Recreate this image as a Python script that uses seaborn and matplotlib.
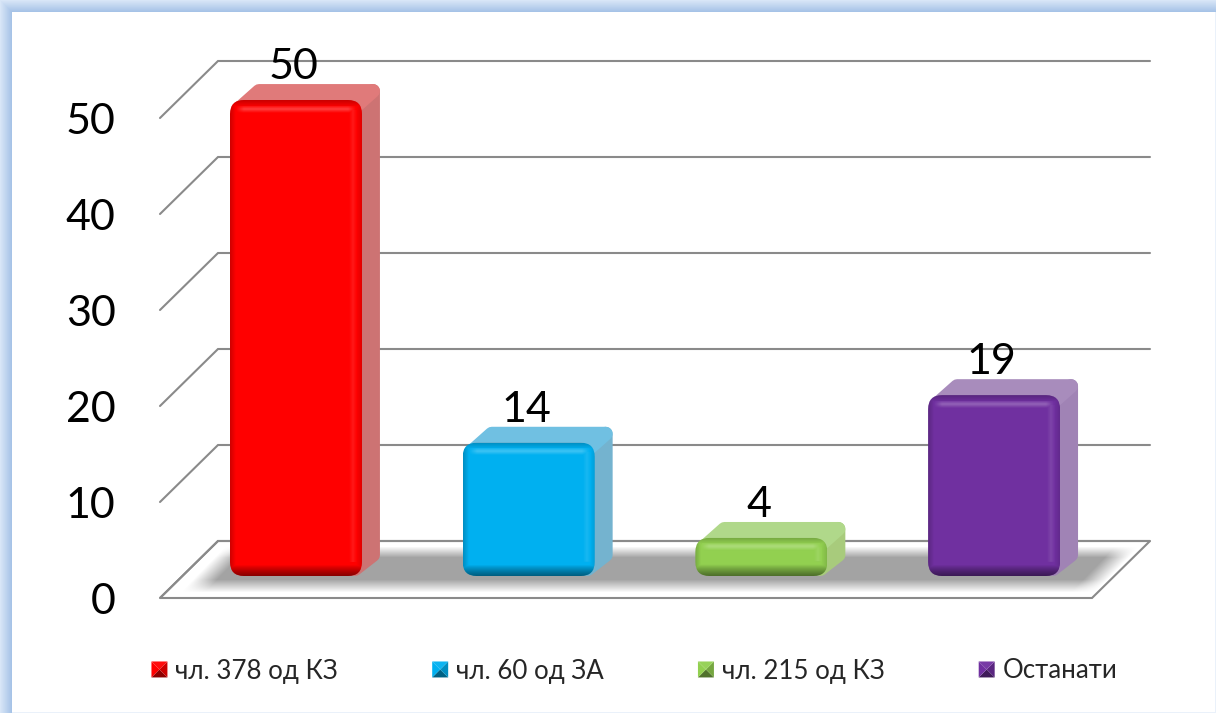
import numpy as np
import matplotlib
matplotlib.use("Agg")
import matplotlib.pyplot as plt
import seaborn as sns
from matplotlib.patches import Polygon, FancyBboxPatch, Patch
from matplotlib.legend_handler import HandlerBase
from matplotlib.colors import to_rgb

categories = ["чл. 378 од КЗ", "чл. 60 од ЗА", "чл. 215 од КЗ", "Останати"]
values = [50, 14, 4, 19]
colors = ["#FF0000", "#00B0F0", "#92D050", "#7030A0"]
side_colors = ["#CD7373", "#74B3CF", "#A8CB7C", "#A083B5"]
top_colors = ["#E07A7A", "#70C0E2", "#B0D88A", "#A88CBC"]
y_ticks = [0, 10, 20, 30, 40, 50]

W, H = 1216, 713
DX, DY = 18, 16
sns.set_theme(style="white")
plt.rcParams["font.family"] = ["Lato", "Noto Sans", "DejaVu Sans"]
fig = plt.figure(figsize=(W / 100, H / 100), dpi=100, facecolor="white")


def fig_rect(x0, y_top, x1, y_bot):
    return [x0 / W, 1 - y_bot / H, (x1 - x0) / W, (y_bot - y_top) / H]


def px_axes(z):
    a = fig.add_axes([0, 0, 1, 1], zorder=z)
    a.set_xlim(0, W)
    a.set_ylim(H, 0)
    a.axis("off")
    a.patch.set_alpha(0)
    return a


bg = px_axes(0)
depth = px_axes(2)
fx = px_axes(4)

# frame
yy, xx = np.mgrid[0:H, 0:W]
d = np.maximum(12 - xx, 12 - yy).astype(float)
t = np.clip(d / 12, 0, 1)[..., None]
inner, outer = np.array(to_rgb("#A2C0E6")), np.array(to_rgb("#D8E6F7"))
frame = inner * (1 - t) + outer * t
frame[d <= 0] = 1
edge = (xx >= W - 1) | (yy >= H - 1)
frame[edge & (d <= 0)] = to_rgb("#EAF1FA")
bg.imshow(frame, extent=(0, W, H, 0), aspect="auto", interpolation="bilinear", zorder=0)

# floor and shadow
fl, fr, bl, br, fy, by = 160, 1092, 218, 1150, 598, 541
bg.add_patch(Polygon([(fl, fy), (bl, by), (br, by), (fr, fy)], closed=True, fc="white",
                     ec="#8A8A8A", lw=1.5, zorder=1))
s = np.clip((yy - 546) / 11, 0, 1) * np.clip((592 - yy) / 13, 0, 1)
sk = (588 - yy) * (35 / 36)
s = s * np.clip((xx - (184 + sk)) / 24, 0, 1) * np.clip(((1098 + sk) - xx) / 24, 0, 1)
shadow = np.zeros((H, W, 4))
shadow[..., :3] = to_rgb("#A3A3A3")
shadow[..., 3] = s
bg.imshow(shadow, extent=(0, W, H, 0), aspect="auto", interpolation="bilinear", zorder=2)
bg.set_xlim(0, W)
bg.set_ylim(H, 0)

# wall with real value axis (front edge 0 at px 598, 50 at px 118)
wall = fig.add_axes(fig_rect(160, 61, 1150, 598), zorder=1)
wall.patch.set_alpha(0)
per_unit = 9.6
wall.set_xlim(160, 1150)
wall.set_ylim(0, (598 - 61) / per_unit)
for sp in wall.spines.values():
    sp.set_visible(False)
wall.set_xticks([])
wall.set_yticks(y_ticks)
wall.tick_params(axis="y", length=0, pad=32, labelsize=31, labelcolor="black")
for v in y_ticks:
    back = v + 57 / per_unit
    wall.plot([160, 218, 1150], [v, back, back], color="#8A8A8A", lw=1.5, clip_on=False,
              solid_joinstyle="miter")

# bars (y=0 at px 576, 50 at px 100; centres at 296 + 232.7*i)
ax = fig.add_axes([0, 0, 1, 1], zorder=3)
ax.patch.set_alpha(0)
sns.barplot(x=categories, y=values, hue=categories, palette=colors, dodge=False,
            width=132 / 232.7, ax=ax, legend=False, saturation=1, order=categories,
            hue_order=categories)
ax.set_xlim(-296 / 232.7, (W - 296) / 232.7)
ax.set_ylim(-(H - 576) / 9.52, 576 / 9.52)
ax.axis("off")

R = 14
for i, cont in enumerate(ax.containers):
    for bar in cont:
        if not np.isfinite(bar.get_height()) or bar.get_height() == 0:
            continue
        x0d, y0d = bar.get_xy()
        a = fx.transData.inverted().transform(ax.transData.transform((x0d, y0d)))
        b = fx.transData.inverted().transform(ax.transData.transform((x0d + bar.get_width(), y0d + bar.get_height())))
        x0, x1, bot, top = a[0], b[0], a[1], b[1]
        bw, bh = x1 - x0, bot - top
        bar.set_edgecolor("none")
        # rounded outline
        round_clip = FancyBboxPatch((x0 + R, top + R), bw - 2 * R, bh - 2 * R,
                                    boxstyle=f"round,pad={R},rounding_size={R}",
                                    transform=fx.transData, fc="none", ec="none")
        fx.add_patch(round_clip)
        bar.set_clip_path(round_clip)
        # depth faces
        m = 7
        depth.add_patch(Polygon([(x1 - m, bot - m), (x1 - m + DX, bot - m - DY + 2), (x1 - m + DX, top + m - DY),
                                 (x1 - m, top + m)], closed=True, fc=side_colors[i], ec=side_colors[i],
                                lw=10, joinstyle="round", zorder=2))
        depth.add_patch(Polygon([(x0 + m + 4, top + m), (x0 + m + 4 + DX, top + m - DY),
                                 (x1 - m + DX, top + m - DY), (x1 - m, top + m)], closed=True,
                                fc=top_colors[i], ec=top_colors[i], lw=10, joinstyle="round", zorder=3))
        # bevel shading
        ih, iw = int(bh), int(bw)
        v_, u_ = np.mgrid[0:ih, 0:iw]
        dl, dr, dt, db = u_ + .5, iw - u_ - .5, v_ + .5, ih - v_ - .5
        dark = 0.20 * np.clip(1 - dl / 6, 0, 1)
        dark = np.maximum(dark, 0.12 * np.clip(1 - dr / 6, 0, 1))
        dark = np.maximum(dark, 0.22 * np.clip(1 - dt / 7, 0, 1))
        dark = np.maximum(dark, 0.48 * np.clip(1 - db / 11, 0, 1) ** 0.8)
        light = 0.25 * np.clip(1 - np.abs(dt - 9) / 4, 0, 1) * np.clip((dl - 6) / 8, 0, 1) * np.clip((dr - 6) / 8, 0, 1)
        light = np.maximum(light, 0.10 * np.clip(1 - np.abs(dr - 9) / 4, 0, 1) * (dt > 10) * (db > 14))
        rgba = np.zeros((ih, iw, 4))
        rgba[..., :3] = np.where((light > dark)[..., None], 1.0, 0.0)
        rgba[..., 3] = np.maximum(dark, light)
        im = fx.imshow(rgba, extent=(x0, x1, bot, top), aspect="auto", interpolation="bilinear", zorder=3)
        im.set_clip_path(round_clip)
fx.set_xlim(0, W)
fx.set_ylim(H, 0)

# data labels, on their own layer above the shading
lab_ax = fig.add_axes(ax.get_position(), zorder=6, sharex=ax, sharey=ax)
lab_ax.patch.set_alpha(0)
lab_ax.axis("off")
for cont in ax.containers:
    for bar in cont:
        if np.isfinite(bar.get_height()) and bar.get_height() > 0:
            lab_ax.annotate(f"{bar.get_height():g}", (bar.get_x() + bar.get_width() / 2, bar.get_height()),
                            xytext=(-2, 10), textcoords="offset points", ha="center", va="bottom",
                            fontsize=31, color="black", annotation_clip=False)


# legend with pyramid-shaded keys
class PyramidHandler(HandlerBase):
    def create_artists(self, legend, orig, xd, yd, width, height, fontsize, trans):
        c = np.array(to_rgb(orig.get_facecolor()))
        size_pt = 11.5
        x0 = -xd + (width - size_pt) / 2
        y0 = -yd + (height - size_pt) / 2
        x1, y1 = x0 + size_pt, y0 + size_pt
        cx, cy = (x0 + x1) / 2, (y0 + y1) / 2
        shades = [c * 0.55, c * 0.8, np.minimum(c * 0.95 + 0.05, 1), c]
        tris = [[(x0, y0), (x1, y0)], [(x1, y0), (x1, y1)], [(x1, y1), (x0, y1)], [(x0, y1), (x0, y0)]]
        return [Polygon(p + [(cx, cy)], closed=True, fc=s, ec="none", transform=trans)
                for p, s in zip(tris, shades)]


handles = [Patch(facecolor=c, label=n) for c, n in zip(colors, categories)]
FS = 18.6
leg = lab_ax.legend(handles=handles, handler_map={Patch: PyramidHandler()}, ncol=4, frameon=False,
                    fontsize=FS, loc="center", bbox_to_anchor=(634.5 / W, 1 - 671 / H),
                    bbox_transform=fig.transFigure, columnspacing=94 * 0.72 / FS,
                    handlelength=16 * 0.72 / FS, handletextpad=8 * 0.72 / FS, borderpad=0, borderaxespad=0)

fig.savefig("out.png", dpi=100)
